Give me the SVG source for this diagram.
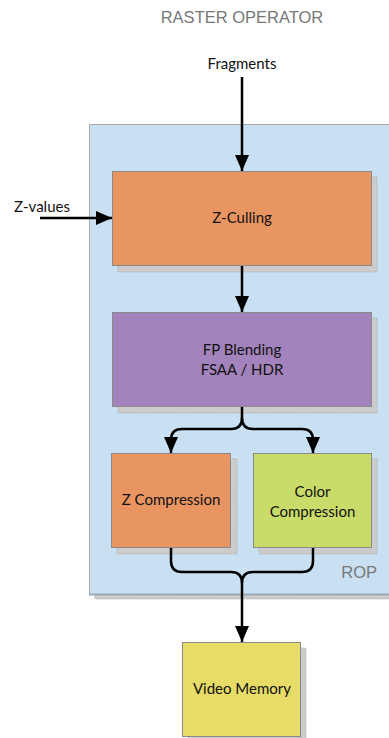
<svg xmlns="http://www.w3.org/2000/svg" width="389" height="738" viewBox="0 0 389 738">
<defs>
<style>
.lbl{font-family:Lato,"Liberation Sans",sans-serif;font-size:15px;fill:#111;text-anchor:middle}
.ttl{font-family:"Liberation Sans",Arial,sans-serif;fill:#777}
.box{stroke:#8a8a8a;stroke-width:1}
.sh{fill:#cccccc;stroke:#aaaaaa;stroke-width:0.8;stroke-dasharray:1.5,1}
.ln{fill:none;stroke:#000;stroke-width:2.5}
</style>
<marker id="ah" viewBox="0 0 16 14" refX="16" refY="7" markerWidth="16" markerHeight="14" markerUnits="userSpaceOnUse" orient="auto">
<path d="M0,0 L16,7 L0,14 Z" fill="#000"/>
</marker>
</defs>
<rect width="389" height="738" fill="#fff"/>
<text class="ttl" x="242" y="23" font-size="16.5" text-anchor="middle">RASTER OPERATOR</text>
<g id="rop">
<rect class="sh" x="95" y="594" width="300" height="5"/>
<rect x="89.5" y="124.5" width="305" height="470" fill="#c9e0f3" stroke="#a8a8a8" stroke-width="1"/>
<line x1="89" y1="594.5" x2="389" y2="594.5" stroke="#9aa8b4" stroke-width="2"/>
<text class="ttl" x="377" y="578" font-size="16.5" text-anchor="end">ROP</text>
</g>
<text class="lbl" x="242" y="69">Fragments</text>
<text class="lbl" x="42" y="212">Z-values</text>
<g id="zculling">
<rect class="sh" x="118" y="177" width="259" height="95"/>
<rect class="box" x="112.5" y="171.5" width="259" height="94" fill="#e99562"/>
<text class="lbl" x="242" y="223">Z-Culling</text>
</g>
<g id="fpblending">
<rect class="sh" x="118" y="318" width="259" height="95"/>
<rect class="box" x="112.5" y="312.5" width="259" height="94" fill="#a383bb"/>
<text class="lbl" x="242" y="355">FP Blending</text>
<text class="lbl" x="242" y="375">FSAA / HDR</text>
</g>
<g id="zcompression">
<rect class="sh" x="117" y="459" width="120" height="95"/>
<rect class="box" x="111.5" y="453.5" width="119" height="94" fill="#e99562"/>
<text class="lbl" x="171" y="505">Z Compression</text>
</g>
<g id="colorcompression">
<rect class="sh" x="259" y="459" width="118" height="95"/>
<rect class="box" x="253.5" y="453.5" width="118" height="94" fill="#c9dc6a"/>
<text class="lbl" x="312.5" y="497">Color</text>
<text class="lbl" x="312.5" y="517">Compression</text>
</g>
<g id="videomemory">
<rect class="sh" x="188" y="648" width="118" height="95"/>
<rect class="box" x="182.5" y="642.5" width="118" height="94" fill="#e7dc68"/>
<text class="lbl" x="242" y="694">Video Memory</text>
</g>
<g id="connectors">
<path class="ln" d="M242,77 L242,171" marker-end="url(#ah)"/>
<path class="ln" d="M40,218 L112,218" marker-end="url(#ah)"/>
<path class="ln" d="M242,266 L242,312" marker-end="url(#ah)"/>
<path class="ln" d="M242,407 L242,418 Q242,429 231,429 L182,429 Q171,429 171,440 L171,453" marker-end="url(#ah)"/>
<path class="ln" d="M242,418 Q242,429 253,429 L302,429 Q313,429 313,440 L313,453" marker-end="url(#ah)"/>
<path class="ln" d="M171,548 L171,561 Q171,572 182,572 L231,572 Q242,572 242,583 L242,642" marker-end="url(#ah)"/>
<path class="ln" d="M313,548 L313,561 Q313,572 302,572 L253,572 Q242,572 242,583"/>
</g>
</svg>
